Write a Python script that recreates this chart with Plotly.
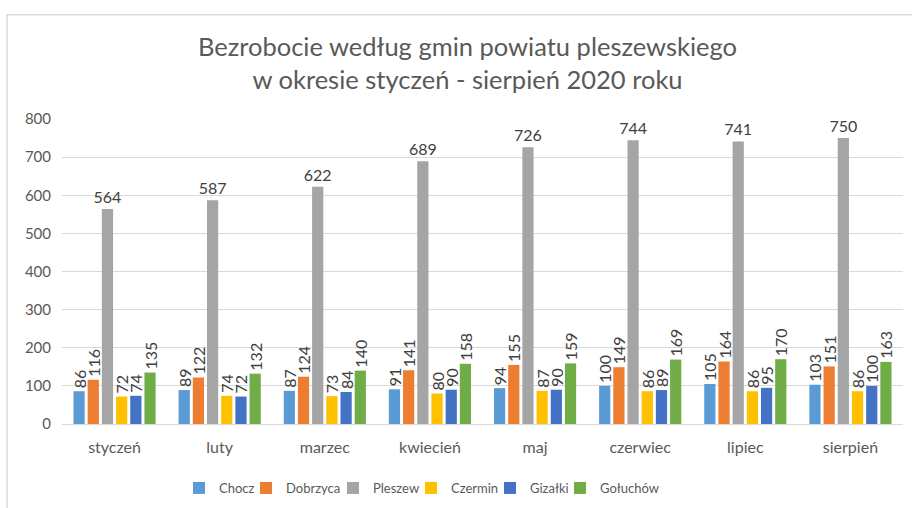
import plotly.graph_objects as go

months = ["styczeń", "luty", "marzec", "kwiecień", "maj", "czerwiec", "lipiec", "sierpień"]
chocz = [86, 89, 87, 91, 94, 100, 105, 103]
dobrzyca = [116, 122, 124, 141, 155, 149, 164, 151]
pleszew = [564, 587, 622, 689, 726, 744, 741, 750]
czermin = [72, 74, 73, 80, 87, 86, 86, 86]
gizalki = [74, 72, 84, 90, 90, 89, 95, 100]
goluchow = [135, 132, 140, 158, 159, 169, 170, 163]

series = [
    ("Chocz", chocz, "#5B9BD5", -90),
    ("Dobrzyca", dobrzyca, "#ED7D31", -90),
    ("Pleszew", pleszew, "#A5A5A5", 0),
    ("Czermin", czermin, "#FFC000", -90),
    ("Gizałki", gizalki, "#4472C4", -90),
    ("Gołuchów", goluchow, "#70AD47", -90),
]

W, H = 912, 508
FONT = "Lato"
# pixel x where each legend entry's text starts (layout only)
legend_text_x = [219, 286, 373, 451, 530, 600]
LEG_OFFSET = 40

fig = go.Figure()
legend_layout = {}
for i, (name, vals, color, ang) in enumerate(series):
    lname = "legend" if i == 0 else f"legend{i + 1}"
    fig.add_trace(go.Bar(
        name=name, x=months, y=vals, marker_color=color, marker_line_width=0,
        text=[str(v) for v in vals], textposition="outside", textangle=ang,
        constraintext="none", cliponaxis=False, legend=lname,
        textfont=dict(family=FONT, size=16, color="#404040"),
    ))
    legend_layout[lname] = dict(
        orientation="h", xref="container", yref="container",
        x=(legend_text_x[i] - LEG_OFFSET) / W, xanchor="left",
        y=1 - 488 / H, yanchor="middle", itemwidth=30,
        bgcolor="rgba(0,0,0,0)", borderwidth=0,
        font=dict(family=FONT, size=13, color="#595959"),
    )

fig.update_layout(
    template="none",
    width=W, height=H,
    margin=dict(l=62, r=9, t=118.5, b=84, pad=0),
    paper_bgcolor="white", plot_bgcolor="white",
    barmode="group", bargap=0.19, bargroupgap=0.21,
    title=dict(text="Bezrobocie według gmin powiatu pleszewskiego<br>w okresie styczeń - sierpień 2020 roku",
               x=467.5 / W, xanchor="center", xref="container", y=0.890, yanchor="middle",
               font=dict(family=FONT, size=25.5, color="#595959")),
    font=dict(family=FONT, color="#595959"),
    showlegend=True,
    xaxis=dict(showgrid=False, showline=True, linecolor="#d9d9d9", linewidth=1, automargin=False,
               tickfont=dict(family=FONT, size=16, color="#595959"), ticks="", zeroline=False,
               ticklabelstandoff=9),
    yaxis=dict(range=[0, 800], dtick=100, showgrid=True, gridcolor="#d9d9d9", automargin=False,
               zeroline=False, showline=False, ticks="", ticklen=0, ticklabelstandoff=10,
               tickfont=dict(family=FONT, size=15, color="#595959")),
    shapes=[dict(type="rect", xref="paper", yref="paper", x0=-0.0654, x1=1.3,
                 y0=-0.6, y1=1.342, line=dict(color="#d9d9d9", width=1.5),
                 fillcolor="rgba(0,0,0,0)", layer="below")],
    **legend_layout,
)

fig.write_html("out.html", config={"displayModeBar": False},
               post_script="document.body.style.margin='0';document.body.style.overflow='hidden';")
